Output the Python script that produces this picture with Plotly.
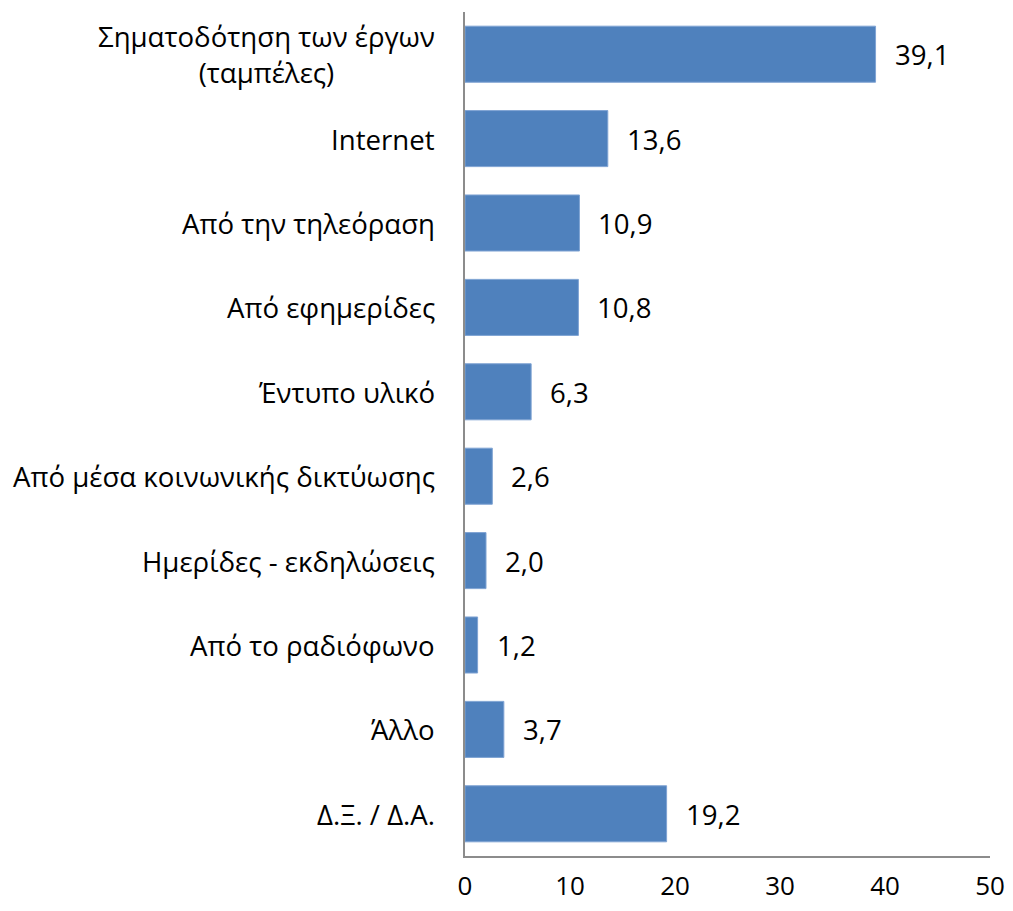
import plotly.graph_objects as go

categories = [
    "Σηματοδότηση των έργων<br>(ταμπέλες)",
    "Internet",
    "Από την τηλεόραση",
    "Από εφημερίδες",
    "Έντυπο υλικό",
    "Από μέσα κοινωνικής δικτύωσης",
    "Ημερίδες - εκδηλώσεις",
    "Από το ραδιόφωνο",
    "Άλλο",
    "Δ.Ξ. / Δ.Α.",
]
values = [39.1, 13.6, 10.9, 10.8, 6.3, 2.6, 2.0, 1.2, 3.7, 19.2]
x_ticks = [0, 10, 20, 30, 40, 50]

FONT = "Open Sans"
FS = 27.6
BAR = "#4F81BD"

fig = go.Figure()
fig.add_trace(go.Bar(
    x=values, y=categories, orientation="h",
    marker=dict(color=BAR, line=dict(color="#7fa3d3", width=1)),
    hoverinfo="skip",
))

annotations = []
for c, v in zip(categories, values):
    annotations.append(dict(
        x=v, y=c, xref="x", yref="y", text=f"{v:.1f}".replace(".", ","),
        showarrow=False, xanchor="left", xshift=17,
        font=dict(family=FONT, size=FS, color="black"),
    ))
    annotations.append(dict(
        x=0, y=c, xref="paper", yref="y", text=c,
        showarrow=False, xanchor="right", xshift=-28, align="center",
        font=dict(family=FONT, size=FS, color="black"),
    ))

fig.update_layout(
    width=997, height=895,
    margin=dict(l=457, r=15, t=4, b=47, autoexpand=False),
    plot_bgcolor="white", paper_bgcolor="white",
    showlegend=False,
    bargap=0.336,
    annotations=annotations,
    xaxis=dict(
        range=[0, 50], tickvals=x_ticks, showgrid=False, zeroline=False,
        showline=True, linecolor="#8c8c8c", linewidth=1.5, automargin=False,
        ticks="outside", ticklen=6, tickcolor="rgba(0,0,0,0)",
        ticklabeloverflow="allow",
        tickfont=dict(family=FONT, size=26, color="black"),
    ),
    yaxis=dict(
        categoryorder="array", categoryarray=categories[::-1],
        showticklabels=False, showgrid=False, zeroline=False, automargin=False,
        showline=True, linecolor="#8c8c8c", linewidth=1.5, ticks="",
    ),
)

fig.write_html("out.html")
